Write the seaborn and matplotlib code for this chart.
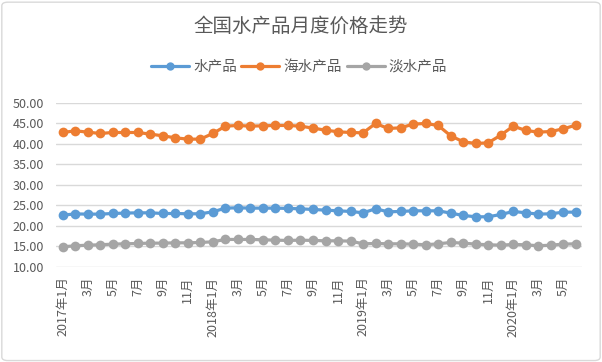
import numpy as np
import pandas as pd
import matplotlib
matplotlib.use("Agg")
import matplotlib.pyplot as plt
import seaborn as sns
from matplotlib.patches import FancyBboxPatch

# ---- data ----
months = []
for y in range(2017, 2021):
    for m in range(1, 13):
        if y == 2020 and m > 6:
            break
        months.append(f"{y}年{m}月" if m == 1 else f"{m}月")

aquatic = [22.6, 22.9, 22.85, 22.85, 23.0, 23.1, 23.17, 23.17, 23.0, 23.0, 22.93, 22.93,
           23.41, 24.31, 24.39, 24.31, 24.31, 24.31, 24.23, 24.15, 23.98, 23.82, 23.66, 23.5,
           23.17, 24.15, 23.41, 23.5, 23.66, 23.66, 23.66, 23.09, 22.52, 22.2, 22.2, 22.76,
           23.5, 23.17, 22.85, 22.93, 23.33, 23.33]
marine = [42.76, 43.17, 42.85, 42.52, 42.76, 42.76, 42.76, 42.36, 41.95, 41.46, 41.14, 41.14,
          42.52, 44.31, 44.47, 44.31, 44.39, 44.47, 44.47, 44.31, 43.82, 43.33, 42.93, 42.76,
          42.68, 44.96, 43.74, 43.9, 44.8, 44.96, 44.47, 41.95, 40.49, 40.08, 40.24, 42.11,
          44.31, 43.25, 42.85, 43.0, 43.66, 44.55]
freshwater = [14.88, 15.12, 15.28, 15.37, 15.53, 15.61, 15.69, 15.77, 15.77, 15.85, 15.85, 15.93,
              16.1, 16.67, 16.67, 16.67, 16.59, 16.5, 16.42, 16.5, 16.42, 16.34, 16.34, 16.26,
              15.61, 15.69, 15.61, 15.61, 15.53, 15.37, 15.61, 15.93, 15.77, 15.53, 15.37, 15.28,
              15.45, 15.37, 15.12, 15.28, 15.53, 15.61]
series_names = ["水产品", "海水产品", "淡水产品"]
colors = ["#5B9BD5", "#ED7D31", "#A5A5A5"]

idx = np.arange(len(months))
df = pd.DataFrame({
    "x": np.concatenate([idx, idx, idx]),
    "price": aquatic + marine + freshwater,
    "kind": np.repeat(series_names, len(months)),
})

sns.set_style("white")
plt.rcParams['font.family'] = ['Noto Sans CJK SC', 'DejaVu Sans']
txt = "#595959"

fig = plt.figure(figsize=(6.02, 3.62), dpi=100)
ax = fig.add_axes([0.0937, 0.263, 0.967 - 0.0937, 0.716 - 0.263])

sns.lineplot(data=df, x="x", y="price", hue="kind", hue_order=series_names,
             palette=colors, marker="o", markersize=7, markeredgewidth=0,
             linewidth=2.3, ax=ax)

ax.set_xlim(-0.5, len(months) - 0.5)
ax.set_ylim(10, 50)
ax.set_yticks(np.arange(10, 51, 5))
ax.set_yticklabels([f"{v:.2f}" for v in np.arange(10, 51, 5)], color=txt, fontsize=9)
ax.set_xticks(idx[::2])
ax.set_xticklabels(months[::2], rotation=90, color=txt, fontsize=9)
ax.tick_params(axis="both", length=0)
ax.tick_params(axis="y", pad=9)
ax.tick_params(axis="x", pad=7)
ax.grid(axis="y", color="#d9d9d9", linewidth=1)
ax.set_axisbelow(True)
for s in ax.spines.values():
    s.set_visible(False)
ax.set_xlabel("")
ax.set_ylabel("")

# legend above the plot, like the Excel original
handles, labels = ax.get_legend_handles_labels()
for h in handles:
    h.set_markersize(6)
ax.legend(handles, labels, loc="center", bbox_to_anchor=(0.497, 1 - 67 / 362),
          bbox_transform=fig.transFigure, ncol=3, frameon=False, fontsize=10.5,
          handlelength=2.6, handletextpad=0.3, columnspacing=0.3, labelcolor=txt)

fig.text(0.5, 1 - 26 / 362, "全国水产品月度价格走势", ha="center", va="center",
         fontsize=14, color=txt)

fig.patches.append(FancyBboxPatch((0.003, 0.004), 0.994, 0.99, boxstyle="round,pad=0,rounding_size=0.01",
                                  transform=fig.transFigure, fill=False,
                                  edgecolor="#d9d9d9", linewidth=1))

fig.savefig("out.png", dpi=100)
